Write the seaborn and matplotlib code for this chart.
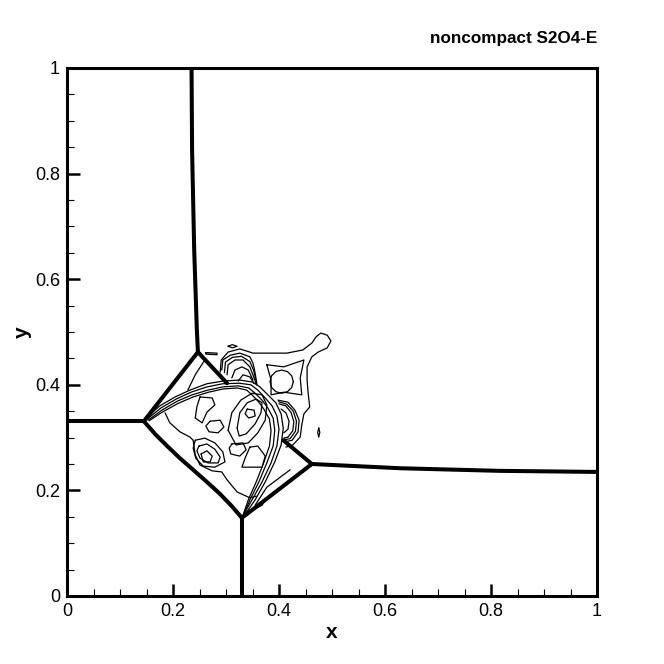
import matplotlib
matplotlib.use("Agg")
import matplotlib.pyplot as plt
import pandas as pd
import seaborn as sns
from matplotlib.ticker import MultipleLocator, FixedLocator, FixedFormatter

# --- shock fronts (thick lines) in x / y units ---
top_shock = [(0.235, 1.0), (0.236, 0.845), (0.240, 0.655), (0.245, 0.504), (0.247, 0.462)]
left_shock = [(0.0, 0.331), (0.145, 0.331)]
upper_left_front = [(0.145, 0.331), (0.247, 0.462)]
triple_stub = [(0.247, 0.462), (0.302, 0.403)]
lower_left_front = [(0.145, 0.331), (0.167, 0.306), (0.189, 0.284), (0.213, 0.261), (0.238, 0.239),
                    (0.264, 0.216), (0.289, 0.193), (0.311, 0.170), (0.330, 0.148)]
bottom_shock = [(0.330, 0.148), (0.330, 0.0)]
lower_right_front = [(0.330, 0.148), (0.462, 0.250)]
right_stub = [(0.462, 0.250), (0.408, 0.295)]
right_shock = [(0.462, 0.250), (0.628, 0.242), (0.817, 0.237), (1.0, 0.235)]

# --- thin density contours ---
arc_1 = [(0.149, 0.337), (0.175, 0.360), (0.204, 0.377), (0.232, 0.390), (0.264, 0.402), (0.294, 0.407),
         (0.326, 0.409), (0.351, 0.405), (0.364, 0.396), (0.379, 0.381), (0.394, 0.366), (0.404, 0.345),
         (0.408, 0.318), (0.404, 0.286), (0.392, 0.254), (0.375, 0.218), (0.355, 0.182), (0.334, 0.152)]
arc_2 = [(0.151, 0.335), (0.177, 0.356), (0.206, 0.373), (0.234, 0.386), (0.264, 0.396), (0.294, 0.402),
         (0.325, 0.403), (0.347, 0.400), (0.360, 0.390), (0.374, 0.375), (0.387, 0.360), (0.396, 0.341),
         (0.400, 0.316), (0.396, 0.284), (0.385, 0.252), (0.368, 0.216), (0.349, 0.182), (0.332, 0.152)]
arc_3 = [(0.153, 0.333), (0.179, 0.352), (0.208, 0.369), (0.236, 0.381), (0.266, 0.390), (0.294, 0.396),
         (0.323, 0.398), (0.343, 0.394), (0.355, 0.384), (0.368, 0.371), (0.379, 0.356), (0.389, 0.337),
         (0.392, 0.314), (0.389, 0.284), (0.377, 0.252), (0.362, 0.216), (0.345, 0.182), (0.332, 0.150)]
arc_4 = [(0.155, 0.332), (0.181, 0.349), (0.210, 0.365), (0.238, 0.377), (0.267, 0.386), (0.294, 0.392),
         (0.321, 0.394), (0.339, 0.390), (0.350, 0.380), (0.362, 0.367), (0.372, 0.353), (0.382, 0.335),
         (0.385, 0.313), (0.382, 0.284), (0.371, 0.252), (0.357, 0.216), (0.342, 0.182), (0.331, 0.150)]
lobe_1 = [(0.292, 0.428), (0.294, 0.447), (0.308, 0.456), (0.326, 0.460), (0.345, 0.453), (0.351, 0.441),
          (0.355, 0.422), (0.358, 0.403)]
lobe_2 = [(0.297, 0.423), (0.299, 0.443), (0.312, 0.452), (0.329, 0.454), (0.345, 0.444), (0.352, 0.428),
          (0.356, 0.410), (0.358, 0.401)]
lobe_3 = [(0.302, 0.419), (0.304, 0.438), (0.317, 0.447), (0.332, 0.447), (0.345, 0.434), (0.353, 0.413),
          (0.358, 0.400)]
lobe_4 = [(0.311, 0.413), (0.317, 0.428), (0.330, 0.434), (0.342, 0.428), (0.351, 0.409)]
lobe_5 = [(0.323, 0.407), (0.332, 0.419), (0.345, 0.415), (0.353, 0.402)]
right_lobe_1 = [(0.398, 0.371), (0.417, 0.367), (0.430, 0.352), (0.438, 0.333), (0.436, 0.311),
                (0.425, 0.295), (0.411, 0.292)]
right_lobe_2 = [(0.399, 0.368), (0.415, 0.363), (0.427, 0.350), (0.433, 0.331), (0.431, 0.312),
                (0.421, 0.298), (0.410, 0.296)]
right_lobe_3 = [(0.400, 0.364), (0.413, 0.360), (0.423, 0.347), (0.428, 0.330), (0.426, 0.313),
                (0.417, 0.301), (0.409, 0.299)]
right_lobe_4 = [(0.404, 0.354), (0.413, 0.347), (0.419, 0.331), (0.417, 0.316), (0.409, 0.309)]
tail = [(0.289, 0.424), (0.291, 0.447), (0.304, 0.462), (0.326, 0.468), (0.351, 0.460), (0.370, 0.460),
        (0.415, 0.460), (0.445, 0.466), (0.462, 0.479), (0.470, 0.491), (0.479, 0.498), (0.491, 0.494),
        (0.498, 0.483), (0.491, 0.470), (0.474, 0.462), (0.462, 0.453), (0.453, 0.434), (0.453, 0.409),
        (0.455, 0.384), (0.458, 0.358), (0.447, 0.345), (0.443, 0.324), (0.440, 0.301), (0.426, 0.286),
        (0.413, 0.282)]
square = [(0.377, 0.438), (0.409, 0.434), (0.447, 0.447), (0.440, 0.413), (0.443, 0.381), (0.409, 0.386),
          (0.385, 0.381), (0.385, 0.409)]
circle = [(0.427, 0.406), (0.424, 0.417), (0.416, 0.425), (0.405, 0.428), (0.394, 0.425), (0.386, 0.417),
          (0.383, 0.406), (0.386, 0.395), (0.394, 0.387), (0.405, 0.384), (0.416, 0.387), (0.424, 0.395)]
blob_a = [(0.251, 0.377), (0.274, 0.375), (0.279, 0.362), (0.264, 0.348), (0.255, 0.328), (0.242, 0.337),
          (0.245, 0.358)]
blob_b = [(0.270, 0.331), (0.289, 0.333), (0.296, 0.320), (0.285, 0.309), (0.268, 0.311), (0.262, 0.322)]
blob_c = [(0.311, 0.288), (0.332, 0.290), (0.338, 0.277), (0.326, 0.265), (0.309, 0.269), (0.306, 0.280)]
blob_d = [(0.340, 0.354), (0.353, 0.352), (0.355, 0.341), (0.343, 0.337), (0.336, 0.345)]
core_1 = [(0.321, 0.318), (0.326, 0.347), (0.340, 0.366), (0.357, 0.373), (0.368, 0.366), (0.366, 0.347),
          (0.355, 0.326), (0.338, 0.307), (0.325, 0.303)]
core_2 = [(0.304, 0.314), (0.311, 0.347), (0.328, 0.371), (0.349, 0.384), (0.368, 0.381), (0.377, 0.362),
          (0.374, 0.333), (0.360, 0.309), (0.342, 0.290), (0.319, 0.286)]
swirl_1 = [(0.242, 0.295), (0.260, 0.299), (0.279, 0.290), (0.294, 0.273), (0.298, 0.254), (0.279, 0.244),
           (0.257, 0.246), (0.243, 0.261), (0.238, 0.280)]
swirl_2 = [(0.249, 0.284), (0.264, 0.288), (0.279, 0.278), (0.289, 0.263), (0.285, 0.252), (0.266, 0.252),
           (0.251, 0.261), (0.245, 0.275)]
swirl_3 = [(0.253, 0.269), (0.264, 0.275), (0.274, 0.265), (0.270, 0.254), (0.257, 0.254)]
wedge = [(0.345, 0.282), (0.360, 0.284), (0.374, 0.265), (0.368, 0.244), (0.330, 0.244), (0.336, 0.261)]
heart_rim = [(0.185, 0.347), (0.194, 0.328), (0.213, 0.311), (0.232, 0.301), (0.238, 0.295), (0.242, 0.267),
             (0.251, 0.248), (0.274, 0.237), (0.292, 0.235), (0.302, 0.220), (0.321, 0.197), (0.345, 0.186),
             (0.357, 0.189)]
triple_trace = [(0.260, 0.447), (0.242, 0.419), (0.228, 0.390)]
foot_loop = [(0.351, 0.163), (0.364, 0.176), (0.377, 0.186), (0.368, 0.172)]
foot_trace = [(0.421, 0.239), (0.377, 0.206), (0.355, 0.172)]
speck_top = [(0.304, 0.473), (0.312, 0.476), (0.321, 0.473), (0.312, 0.470)]
speck_triple = [(0.262, 0.461), (0.283, 0.460), (0.283, 0.457), (0.262, 0.458)]
speck_right = [(0.475, 0.318), (0.477, 0.310), (0.475, 0.301), (0.473, 0.310)]

# --- axes text ---
tick_values = [0, 0.2, 0.4, 0.6, 0.8, 1]
tick_labels = ["0", "0.2", "0.4", "0.6", "0.8", "1"]
title_text = "noncompact S2O4-E"

thick = {
    "top_shock": top_shock, "left_shock": left_shock, "upper_left_front": upper_left_front,
    "triple_stub": triple_stub, "lower_left_front": lower_left_front, "bottom_shock": bottom_shock,
    "lower_right_front": lower_right_front, "right_stub": right_stub, "right_shock": right_shock,
}
thin = {
    "arc_1": arc_1, "arc_2": arc_2, "arc_3": arc_3, "arc_4": arc_4, "lobe_1": lobe_1, "lobe_2": lobe_2,
    "lobe_3": lobe_3, "lobe_4": lobe_4, "lobe_5": lobe_5, "right_lobe_1": right_lobe_1,
    "right_lobe_2": right_lobe_2, "right_lobe_3": right_lobe_3, "right_lobe_4": right_lobe_4,
    "tail": tail, "square": square, "circle": circle,
    "blob_a": blob_a, "blob_b": blob_b, "blob_c": blob_c, "blob_d": blob_d, "core_1": core_1,
    "core_2": core_2, "swirl_1": swirl_1, "swirl_2": swirl_2, "swirl_3": swirl_3, "wedge": wedge,
    "heart_rim": heart_rim, "triple_trace": triple_trace, "foot_loop": foot_loop,
    "foot_trace": foot_trace, "speck_top": speck_top, "speck_triple": speck_triple,
    "speck_right": speck_right,
}
closed = {"square", "circle", "blob_a", "blob_b", "blob_c", "blob_d", "core_1", "core_2", "swirl_1",
          "swirl_2", "swirl_3", "wedge", "foot_loop", "speck_top", "speck_triple", "speck_right"}


def to_frame(curves):
    rows = []
    for name, pts in curves.items():
        pts = list(pts)
        if name in closed:
            pts = pts + pts[:1]
        for i, (x, y) in enumerate(pts):
            rows.append((name, i, x, y))
    return pd.DataFrame(rows, columns=["curve", "order", "x", "y"])


sns.set_theme(style="white")
plt.rcParams["font.family"] = ["Liberation Sans", "DejaVu Sans"]
plt.rcParams["text.color"] = "black"
plt.rcParams["axes.labelcolor"] = "black"
plt.rcParams["xtick.color"] = "black"
plt.rcParams["ytick.color"] = "black"

fig = plt.figure(figsize=(6.64, 6.64), dpi=100)
ax = fig.add_axes([67 / 664, 68 / 664, 530 / 664, 528 / 664])

sns.lineplot(data=to_frame(thin), x="x", y="y", units="curve", estimator=None, sort=False,
             color="black", linewidth=0.9, solid_joinstyle="round", ax=ax)
sns.lineplot(data=to_frame(thick), x="x", y="y", units="curve", estimator=None, sort=False,
             color="black", linewidth=2.9, solid_joinstyle="round", solid_capstyle="round", ax=ax)

ax.set_xlim(0, 1)
ax.set_ylim(0, 1)
for s in ax.spines.values():
    s.set_visible(True)
    s.set_color("black")
    s.set_linewidth(2.2)

ax.xaxis.set_major_locator(FixedLocator(tick_values))
ax.xaxis.set_major_formatter(FixedFormatter(tick_labels))
ax.yaxis.set_major_locator(FixedLocator(tick_values))
ax.yaxis.set_major_formatter(FixedFormatter(tick_labels))
ax.xaxis.set_minor_locator(MultipleLocator(0.05))
ax.yaxis.set_minor_locator(MultipleLocator(0.05))
ax.tick_params(which="major", direction="in", length=9, width=1.8, color="black", labelcolor="black",
               labelsize=13, pad=5, bottom=True, left=True, top=False, right=False)
ax.tick_params(which="minor", direction="in", length=5, width=0.8, color="black",
               bottom=True, left=True, top=False, right=False)

ax.set_xlabel("x", fontsize=15, fontweight="bold", labelpad=2, color="black")
ax.set_ylabel("y", fontsize=15, fontweight="bold", labelpad=2, color="black")
ax.text(1.0, 1.042, title_text, transform=ax.transAxes, ha="right", va="bottom",
        fontsize=12.3, fontweight="bold", color="black")

fig.savefig("out.png", dpi=100)
